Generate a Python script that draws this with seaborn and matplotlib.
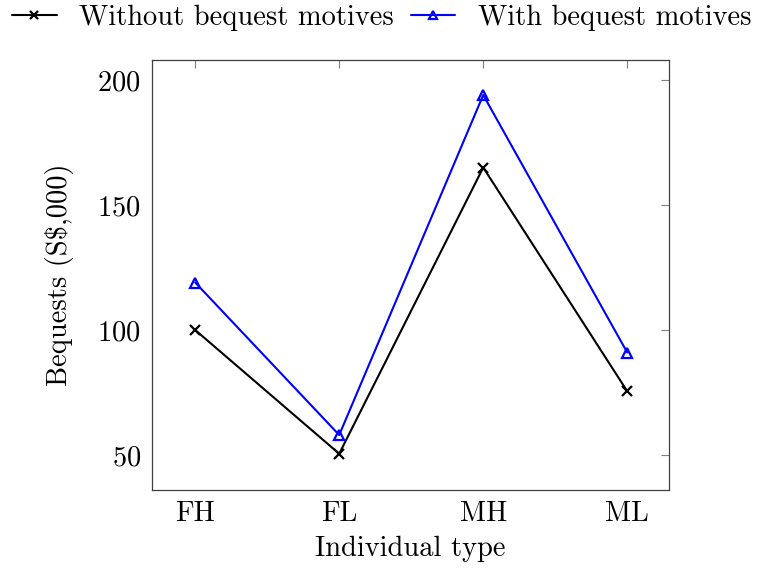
import matplotlib
matplotlib.use("Agg")
import matplotlib.pyplot as plt
import seaborn as sns
import pandas as pd
from matplotlib.lines import Line2D

categories = ["FH", "FL", "MH", "ML"]
without_bequest = [100, 50.5, 165, 75.5]
with_bequest = [119, 58, 194, 91]
series_names = ["Without bequest motives", "With bequest motives"]

sns.set_theme(style="white")
plt.rcParams["font.family"] = ["cmr10", "DejaVu Serif"]
plt.rcParams["axes.formatter.use_mathtext"] = True
plt.rcParams["mathtext.fontset"] = "cm"
plt.rcParams["text.color"] = "black"
plt.rcParams["axes.labelcolor"] = "black"
plt.rcParams["xtick.labelcolor"] = "black"
plt.rcParams["ytick.labelcolor"] = "black"

FS = 20.5

x = list(range(len(categories)))
df1 = pd.DataFrame({"x": x, "value": without_bequest})
df2 = pd.DataFrame({"x": x, "value": with_bequest})

fig = plt.figure(figsize=(7.64, 5.71), dpi=100)
ax = fig.add_axes([152/764, 1 - 490/571, (669-152)/764, (490-60)/571])

sns.lineplot(data=df1, x="x", y="value", color="black", marker="x",
             linewidth=1.5, markersize=7, markeredgewidth=1.6,
             markeredgecolor="black", ax=ax)
sns.lineplot(data=df2, x="x", y="value", color="blue", marker="^",
             linewidth=1.5, markersize=7, markeredgewidth=1.6,
             markerfacecolor="none", markeredgecolor="blue", ax=ax)

ax.set_xlim(-0.3, 3.29)
ax.set_ylim(36, 208)
ax.set_xticks(x)
ax.set_xticklabels(categories)
ax.set_yticks([50, 100, 150, 200])
ax.tick_params(direction="in", length=6, width=0.8, color="#808080",
               top=True, right=True, labelsize=FS, pad=8)
for s in ax.spines.values():
    s.set_color("#404040")
    s.set_linewidth(0.9)
ax.set_xlabel("Individual type", fontsize=FS, labelpad=6)
ax.set_ylabel("Bequests (S$,000)", fontsize=FS, labelpad=17)

handles = [
    Line2D([], [], color="black", marker="x", lw=1.5, markersize=6, mew=1.6),
    Line2D([], [], color="blue", marker="^", lw=1.5, markersize=6, mew=1.6, mfc="none"),
]
fig.legend(handles, series_names, loc="center", bbox_to_anchor=(0.5, 1 - 18/571),
           ncol=2, frameon=False, fontsize=FS, handlelength=1.55, handletextpad=0.8,
           columnspacing=0.6, borderaxespad=0)

fig.savefig("out.png", dpi=100)
